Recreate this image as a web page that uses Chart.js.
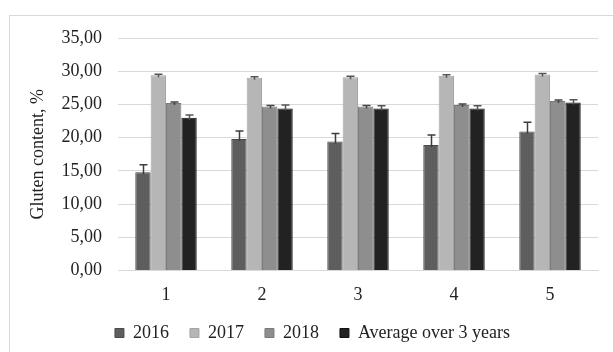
<!DOCTYPE html>
<html>
<head>
<meta charset="utf-8">
<script src="https://cdn.jsdelivr.net/npm/chart.js@4/dist/chart.umd.min.js"></script>
<style>
  html, body { margin: 0; padding: 0; background: #fff; }
  #wrap { position: relative; width: 613px; height: 352px; overflow: hidden; }
  #frame { position: absolute; left: 9px; top: 15px; width: 640px; height: 400px;
           border-left: 1px solid #d9d9d9; border-top: 1px solid #d9d9d9; }
  canvas { position: absolute; left: 0; top: 0; }
</style>
</head>
<body>
<div id="wrap">
  <div id="frame"></div>
  <canvas id="c" width="613" height="352"></canvas>
</div>
<script>
// Sample numbers along the x axis
const categories = ['1', '2', '3', '4', '5'];

// Gluten content, % by year
const values2016 = [14.8, 19.8, 19.4, 18.9, 20.9];
const values2017 = [29.4, 29.0, 29.1, 29.3, 29.5];
const values2018 = [25.2, 24.7, 24.7, 24.9, 25.5];
const valuesAvg  = [23.0, 24.4, 24.4, 24.4, 25.3];

// Upper error bar lengths
const err2016 = [1.1, 1.2, 1.2, 1.5, 1.4];
const err2017 = [0.15, 0.15, 0.15, 0.15, 0.15];
const err2018 = [0.15, 0.15, 0.15, 0.15, 0.15];
const errAvg  = [0.4, 0.5, 0.4, 0.4, 0.4];

const seriesNames = ['2016', '2017', '2018', 'Average over 3 years'];
const yTicks = [0, 5, 10, 15, 20, 25, 30, 35];

const serif = '"Liberation Serif", "DejaVu Serif", serif';

const errorBars = {
  id: 'errorBars',
  afterDatasetsDraw(chart) {
    const ctx = chart.ctx;
    const yScale = chart.scales.y;
    chart.data.datasets.forEach((ds, i) => {
      const meta = chart.getDatasetMeta(i);
      meta.data.forEach((bar, j) => {
        const v = ds.data[j];
        const e = ds.errors[j];
        const yTop = yScale.getPixelForValue(v + e);
        const yBar = yScale.getPixelForValue(v);
        const x = Math.round(bar.x) + 0.5;
        ctx.save();
        ctx.strokeStyle = ds.errorColor;
        ctx.lineWidth = 1.5;
        ctx.beginPath();
        ctx.moveTo(x, yBar + 2);
        ctx.lineTo(x, yTop);
        ctx.moveTo(x - 4, yTop);
        ctx.lineTo(x + 4, yTop);
        ctx.stroke();
        ctx.restore();
      });
    });
  }
};

const mk = (label, data, errors, color, border, errorColor) => ({
  label, data, errors, errorColor,
  backgroundColor: color,
  borderColor: border,
  borderWidth: 1,
  categoryPercentage: 0.64,
  barPercentage: 1.0
});

new Chart(document.getElementById('c'), {
  type: 'bar',
  data: {
    labels: categories,
    datasets: [
      mk(seriesNames[0], values2016, err2016, '#5e5e5e', '#4a4a4a', '#3c3c3c'),
      mk(seriesNames[1], values2017, err2017, '#b6b6b6', '#a4a4a4', '#555555'),
      mk(seriesNames[2], values2018, err2018, '#8e8e8e', '#7a7a7a', '#444444'),
      mk(seriesNames[3], valuesAvg, errAvg, '#222222', '#111111', '#555555')
    ]
  },
  options: {
    responsive: false,
    animation: false,
    devicePixelRatio: 1,
    layout: { padding: { left: 27, right: 15, top: 38, bottom: 0 } },
    plugins: {
      tooltip: { enabled: false },
      legend: {
        position: 'bottom',
        labels: {
          boxWidth: 9,
          boxHeight: 9,
          padding: 21,
          color: '#222',
          font: { family: serif, size: 18 }
        }
      }
    },
    scales: {
      x: {
        afterFit(scale) { scale.height = scale.height - 17; },
        grid: { display: false, drawTicks: false },
        border: { color: '#d9d9d9', width: 1 },
        ticks: { color: '#222', padding: 14, font: { family: serif, size: 18 } }
      },
      y: {
        min: 0,
        max: 35,
        afterBuildTicks(scale) { scale.ticks = yTicks.map(v => ({ value: v })); },
        afterFit(scale) { scale.width = 91; },
        grid: { color: '#d9d9d9', lineWidth: 1, drawTicks: false },
        border: { display: false },
        ticks: {
          color: '#222',
          padding: 16,
          font: { family: serif, size: 18 },
          callback: v => v.toFixed(2).replace('.', ',')
        },
        title: {
          display: true,
          text: 'Gluten content, %',
          color: '#222',
          padding: { top: 0, bottom: 4 },
          font: { family: serif, size: 18 }
        }
      }
    }
  },
  plugins: [errorBars]
});
</script>
</body>
</html>
